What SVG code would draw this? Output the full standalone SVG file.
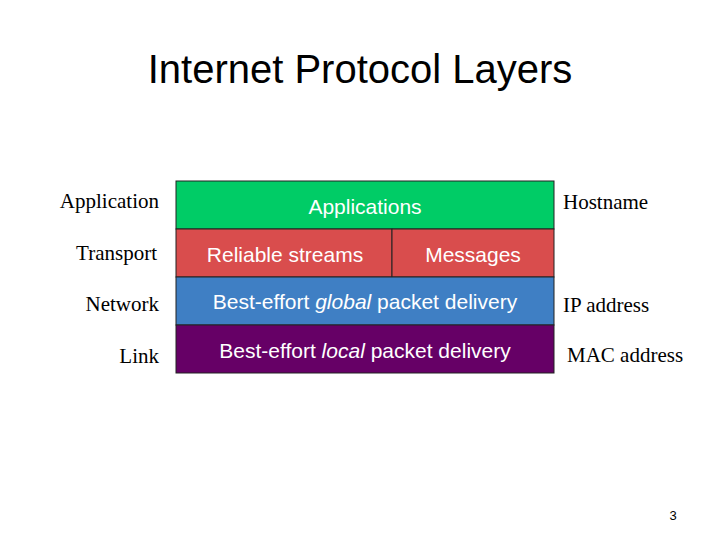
<svg xmlns="http://www.w3.org/2000/svg" width="720" height="540" viewBox="0 0 720 540">
<style>
.s{font-family:"Liberation Serif",serif;font-size:21px;fill:#000}
.w{font-family:"Liberation Sans",sans-serif;font-size:21px;fill:#fff}
.b{stroke:#222;stroke-width:1}
</style>
<rect width="720" height="540" fill="#fff"/>
<text x="360" y="83" text-anchor="middle" font-family="Liberation Sans,sans-serif" font-size="40">Internet Protocol Layers</text>
<g id="labels-left">
<text class="s" x="159" y="208" text-anchor="end">Application</text>
<text class="s" x="157" y="260" text-anchor="end">Transport</text>
<text class="s" x="159" y="311" text-anchor="end">Network</text>
<text class="s" x="159" y="363" text-anchor="end">Link</text>
</g>
<g id="applications"><rect class="b" x="176" y="181" width="378" height="48" fill="#00cc66"/><text class="w" x="365" y="214" text-anchor="middle">Applications</text></g>
<g id="reliable"><rect class="b" x="176" y="229" width="216" height="48" fill="#d94d4d"/><text class="w" x="285" y="262" text-anchor="middle">Reliable streams</text></g>
<g id="messages"><rect class="b" x="392" y="229" width="162" height="48" fill="#d94d4d"/><text class="w" x="473" y="262" text-anchor="middle">Messages</text></g>
<g id="network"><rect class="b" x="176" y="277" width="378" height="48" fill="#3f7fc4"/><text class="w" x="365" y="309" text-anchor="middle">Best-effort <tspan font-style="italic">global</tspan> packet delivery</text></g>
<g id="link"><rect class="b" x="176" y="325" width="378" height="48" fill="#660066"/><text class="w" x="365" y="358" text-anchor="middle">Best-effort <tspan font-style="italic">local</tspan> packet delivery</text></g>
<g id="labels-right">
<text class="s" x="563" y="209">Hostname</text>
<text class="s" x="563" y="312">IP address</text>
<text class="s" x="567" y="362">MAC address</text>
</g>
<text x="673" y="520" text-anchor="middle" font-family="Liberation Sans,sans-serif" font-size="13">3</text>
</svg>
